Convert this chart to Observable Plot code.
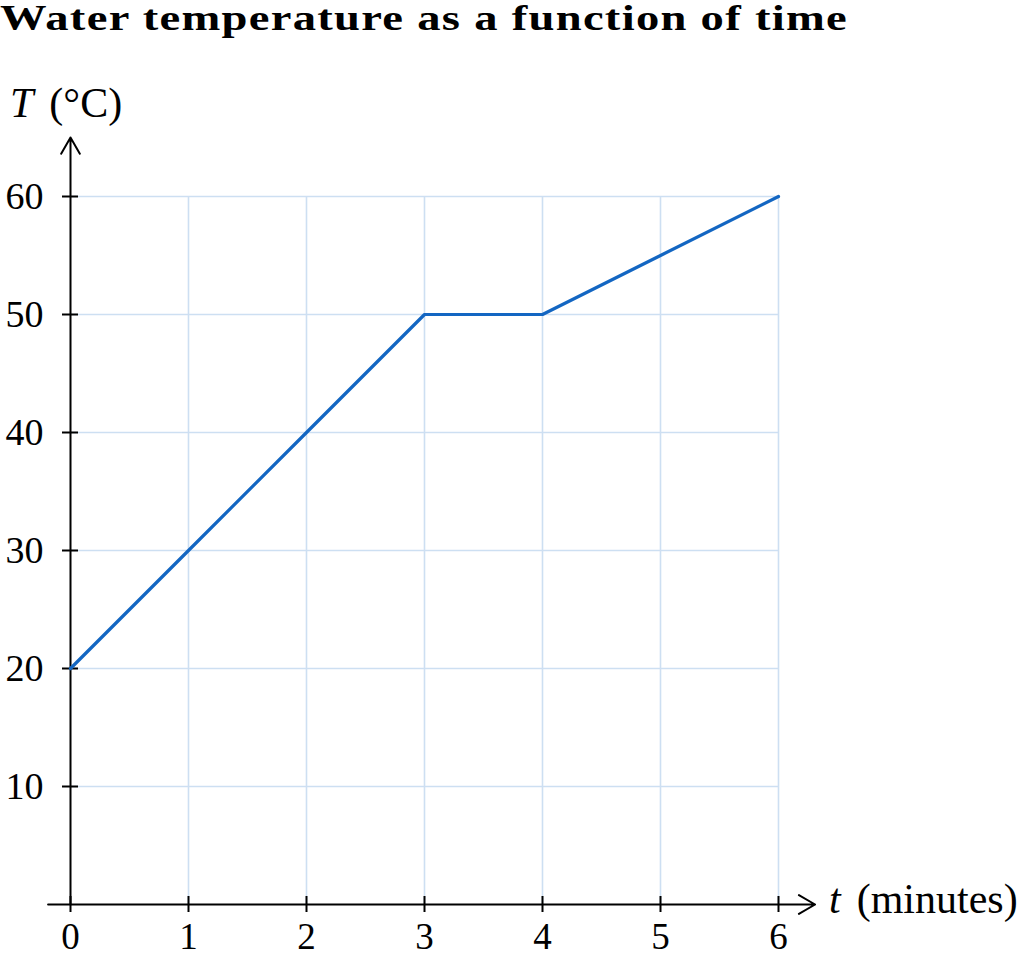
<!DOCTYPE html>
<html>
<head>
<meta charset="utf-8">
<script src="https://cdn.jsdelivr.net/npm/d3@7"></script>
<script src="https://cdn.jsdelivr.net/npm/@observablehq/plot@0.6"></script>
<style>
  html, body { margin: 0; padding: 0; background: #fff; }
  #title { font-family: "Liberation Serif", serif; font-weight: bold; font-size: 36px; line-height: 36px; height: 45px; white-space: nowrap; padding-top: 0px; box-sizing: border-box; overflow: visible; }
  #title span { display: inline-block; transform-origin: 0 0; letter-spacing: 1px; }
  #chart svg { display: block; }
</style>
</head>
<body>
<div id="title"><span>Water temperature as a function of time</span></div>
<div id="chart"></div>
<script>
// Data
const time = [0, 1, 2, 3, 4, 5, 6];               // minutes
const temperature = [20, 30, 40, 50, 50, 55, 60]; // °C
const xTicks = [0, 1, 2, 3, 4, 5, 6];
const yTicks = [10, 20, 30, 40, 50, 60];
const xGrid = [1, 2, 3, 4, 5, 6];
const yGrid = [10, 20, 30, 40, 50, 60];
const xLabelItalic = "t";
const xLabelRest = "(minutes)";
const yLabelItalic = "T";
const yLabelRest = "(°C)";

const data = time.map((t, i) => ({t, T: temperature[i]}));

const font = "Liberation Serif, serif";
const gridColor = "#cddff2";
const lineColor = "#1366c2";

const W = 1028, H = 913;
const chart = Plot.plot({
  width: W,
  height: H,
  marginLeft: 70,
  marginRight: 250,
  marginTop: 151,
  marginBottom: 54,
  style: {fontFamily: font, background: "#fff", overflow: "visible"},
  x: {domain: [0, 6], axis: null},
  y: {domain: [0, 60], axis: null},
  marks: [
    // grid
    Plot.ruleX(xGrid, {x: d => d, y1: 0, y2: 60, stroke: gridColor, strokeWidth: 1.6}),
    Plot.ruleY(yGrid, {y: d => d, x1: 0, x2: 6, stroke: gridColor, strokeWidth: 1.6}),
    // axes with arrows
    Plot.arrow([{x1: -0.19, x2: 6.31}], {x1: "x1", x2: "x2", y1: 0, y2: 0, stroke: "black", strokeWidth: 2, headLength: 14, headAngle: 60}),
    Plot.arrow([{y1: 0, y2: 65}], {x1: 0, x2: 0, y1: "y1", y2: "y2", stroke: "black", strokeWidth: 2, headLength: 14, headAngle: 60}),
    // ticks
    Plot.ruleX(xTicks, {x: d => d, y1: 0, y2: 0, insetTop: -8, insetBottom: -8, stroke: "black", strokeWidth: 2}),
    Plot.ruleY(yTicks, {y: d => d, x1: 0, x2: 0, insetLeft: -8, insetRight: -8, stroke: "black", strokeWidth: 2}),
    // tick labels
    Plot.text(xTicks, {x: d => d, y: 0, text: d => String(d), dy: 33, fontSize: 37, fill: "black"}),
    Plot.text(yTicks, {x: 0, y: d => d, text: d => String(d), dx: -27, textAnchor: "end", fontSize: 38, fill: "black"}),
    // data line
    Plot.line(data, {x: "t", y: "T", stroke: lineColor, strokeWidth: 3.2})
  ]
});
document.getElementById("chart").appendChild(chart);

// Axis labels (italic variable + upright unit)
const svg = d3.select(chart);
function addLabel(x, y, italic, rest) {
  const t = svg.append("text")
    .attr("x", x).attr("y", y)
    .attr("text-anchor", "start")
    .attr("font-family", font).attr("font-size", 42).attr("fill", "black");
  t.append("tspan").attr("font-style", "italic").text(italic);
  t.append("tspan").attr("dx", 16).text(rest);
}
addLabel(10, 72, yLabelItalic, yLabelRest);
addLabel(829, 868, xLabelItalic, xLabelRest);

// Stretch title horizontally to the reference width
const span = document.querySelector("#title span");
const w = span.getBoundingClientRect().width;
const target = 848;
span.style.transform = `scaleX(${target / w})`;
</script>
</body>
</html>
